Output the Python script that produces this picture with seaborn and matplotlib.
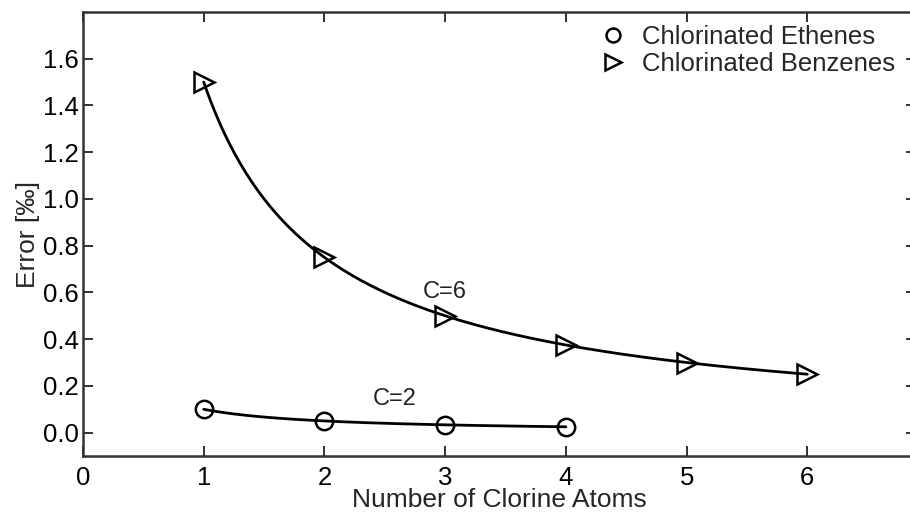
import numpy as np
import pandas as pd
import matplotlib
matplotlib.use("Agg")
import matplotlib.pyplot as plt
import seaborn as sns

# Data
ethene_n = [1, 2, 3, 4]
ethene_err = [0.10, 0.05, 0.033, 0.025]
benzene_n = [1, 2, 3, 4, 5, 6]
benzene_err = [1.50, 0.75, 0.50, 0.375, 0.30, 0.25]

x_ticks = [0, 1, 2, 3, 4, 5, 6]
y_ticks = [0.0, 0.2, 0.4, 0.6, 0.8, 1.0, 1.2, 1.4, 1.6]

sns.set_style("ticks")
plt.rcParams['font.family'] = ['Liberation Sans', 'DejaVu Sans']

fig = plt.figure(figsize=(9.1, 5.12), dpi=100)
ax = fig.add_axes([83 / 910, 1 - 456 / 512, (916 - 83) / 910, (456 - 12) / 512])


def fit_curve(n, e):
    n = np.asarray(n, float)
    e = np.asarray(e, float)
    a = np.sum(e / n) / np.sum(1.0 / n ** 2)
    xs = np.linspace(n.min(), n.max(), 200)
    return pd.DataFrame({"n": xs, "err": a / xs})


eth_fit = fit_curve(ethene_n, ethene_err)
ben_fit = fit_curve(benzene_n, benzene_err)

sns.lineplot(data=eth_fit, x="n", y="err", color="black", lw=2, ax=ax)
sns.lineplot(data=ben_fit, x="n", y="err", color="black", lw=2, ax=ax)

ax.plot(ethene_n, ethene_err, linestyle="none", marker="o", markersize=12.5,
        markerfacecolor="none", markeredgecolor="black", markeredgewidth=1.8,
        label="Chlorinated Ethenes")
ax.plot(benzene_n, benzene_err, linestyle="none", marker=">", markersize=14,
        markerfacecolor="none", markeredgecolor="black", markeredgewidth=1.8,
        label="Chlorinated Benzenes")

ax.set_xlim(0, 6.9)
ax.set_ylim(-0.1, 1.8)
ax.set_xticks(x_ticks)
ax.set_yticks(y_ticks)
ax.set_xticklabels([str(t) for t in x_ticks])
ax.set_yticklabels([f"{t:.1f}" for t in y_ticks])
ax.tick_params(direction="in", length=7, width=1.3, labelsize=18.5, top=True, right=True,
               colors="#222222", labelcolor="black", pad=3)
ax.tick_params(axis="x", pad=7)
for s in ax.spines.values():
    s.set_linewidth(1.8)
    s.set_color("#333333")

ax.set_xlabel("Number of Clorine Atoms", fontsize=19, labelpad=-1)
ax.set_ylabel("Error [‰]", fontsize=19, labelpad=2)

ax.text(3.0, 0.60, "C=6", fontsize=17, ha="center", va="center", color="#222222")
ax.text(2.58, 0.145, "C=2", fontsize=17, ha="center", va="center", color="#222222")

leg = ax.legend(loc="upper left", bbox_to_anchor=(0.613, 0.993), frameon=False,
                fontsize=18.5, handlelength=0.7, handletextpad=0.8, labelspacing=0.1,
                borderaxespad=0.0, markerscale=0.8)

fig.savefig("out.png", dpi=100)
